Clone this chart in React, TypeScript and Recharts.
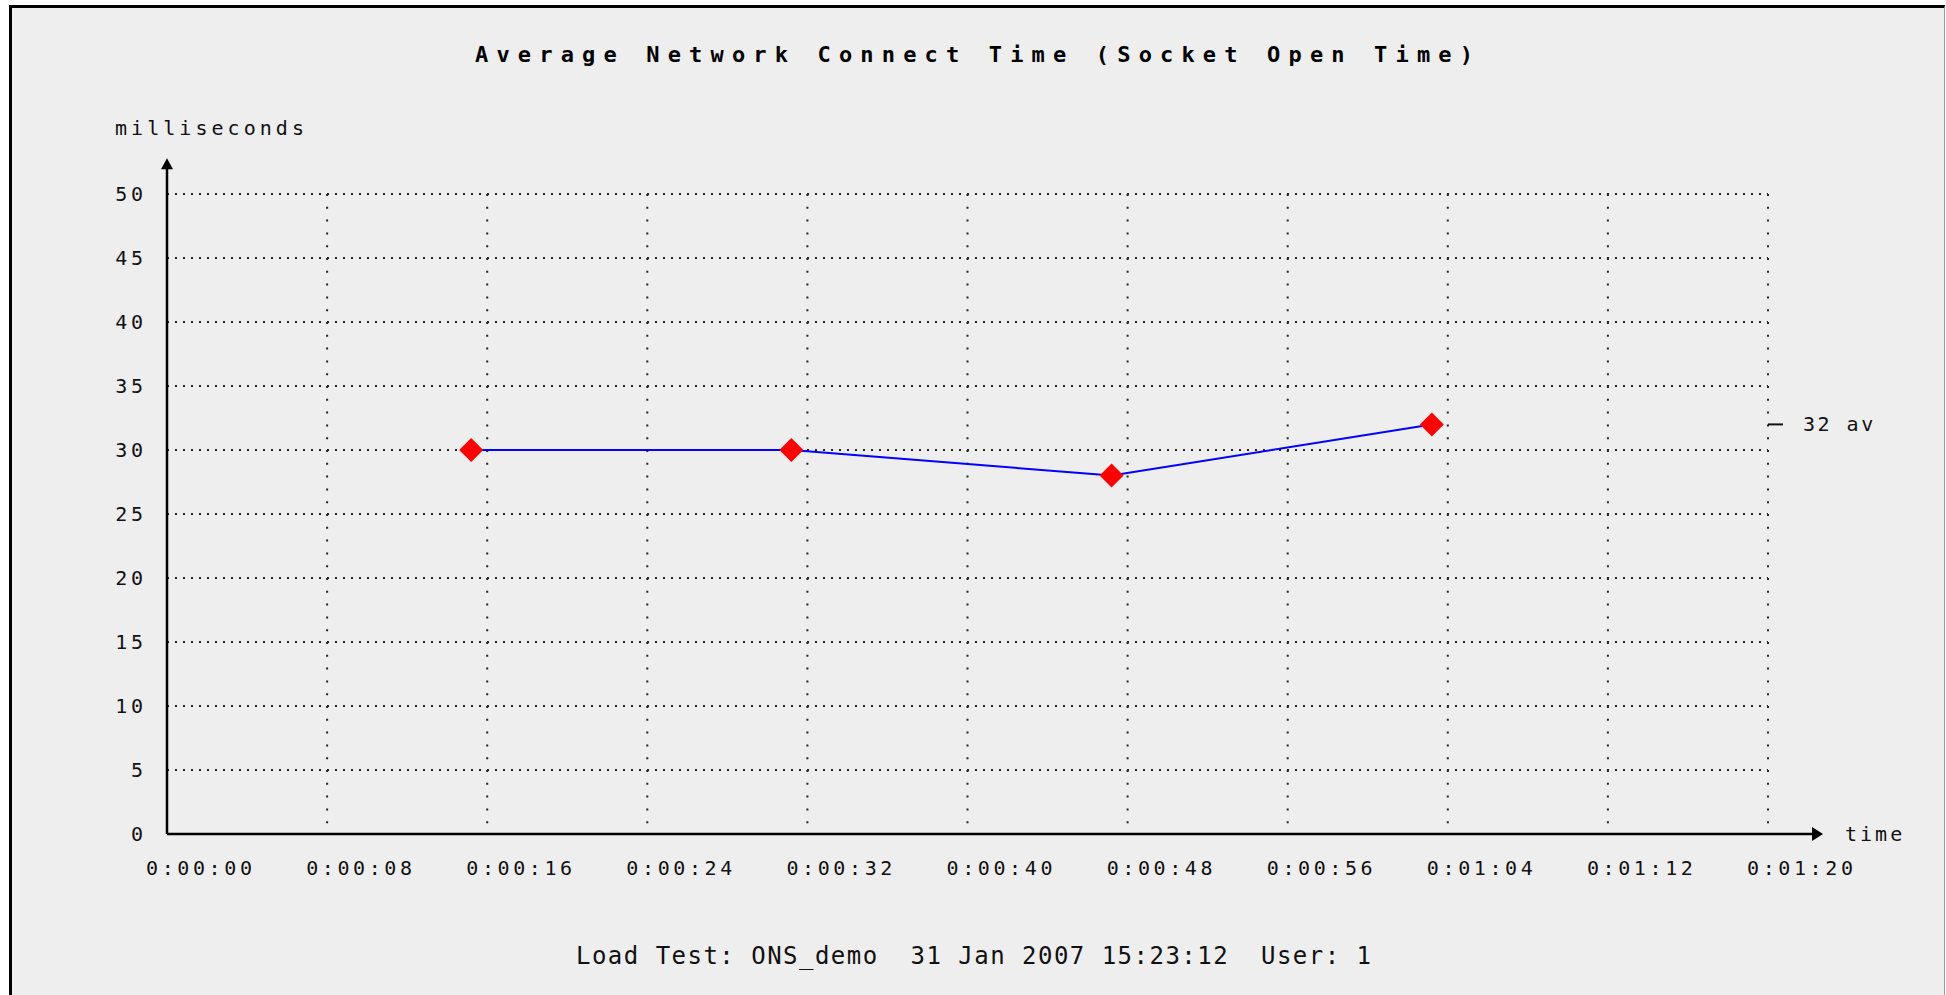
import React from "react";
import { LineChart, Line, XAxis, YAxis, CartesianGrid, ReferenceLine, ReferenceDot } from "recharts";

// values
const sampleTimes = [15.2, 31.2, 47.2, 63.2]; // seconds since start
const connectMs = [30, 30, 28, 32];
const xTicks = [0, 8, 16, 24, 32, 40, 48, 56, 64, 72, 80];
const yTicks = [0, 5, 10, 15, 20, 25, 30, 35, 40, 45, 50];
const avLabel = { value: 32, text: "32 av" };

const data = sampleTimes.map((t, i) => ({ t, ms: connectMs[i] }));

const MONO = "'DejaVu Sans Mono', 'Liberation Mono', monospace";
const LS = 3.6;

const fmtTime = (s: number) => {
  const m = Math.floor(s / 60);
  const sec = s % 60;
  return `0:${String(m).padStart(2, "0")}:${String(sec).padStart(2, "0")}`;
};

const XTick = (props: any) => {
  const { x, y, payload } = props;
  return (
    <text x={x + 32 + LS / 2} y={y + 41} textAnchor="middle" fontFamily={MONO} fontSize={20} letterSpacing={LS} fill="#111">
      {fmtTime(payload.value)}
    </text>
  );
};

const YTick = (props: any) => {
  const { x, y, payload } = props;
  return (
    <text x={x - 24 + LS} y={y + 7} textAnchor="end" fontFamily={MONO} fontSize={20} letterSpacing={LS} fill="#111">
      {payload.value}
    </text>
  );
};

const Diamond = (props: any) => {
  const { cx, cy, index } = props;
  if (cx == null || cy == null) return null;
  const r = 12;
  return (
    <polygon
      key={`d-${index}`}
      points={`${cx},${cy - r} ${cx + r},${cy} ${cx},${cy + r} ${cx - r},${cy}`}
      fill="#ff0000"
    />
  );
};

const XArrow = (props: any) => {
  const { cx, cy } = props;
  return (
    <g>
      <polygon points={`${cx},${cy} ${cx - 11},${cy - 7} ${cx - 11},${cy + 7}`} fill="#000" />
      <text x={cx + 22} y={cy + 7} fontFamily={MONO} fontSize={20} letterSpacing={3} fill="#111">
        time
      </text>
    </g>
  );
};

const YArrow = (props: any) => {
  const { cx, cy } = props;
  return <polygon points={`${cx},${cy} ${cx - 6},${cy + 11} ${cx + 6},${cy + 11}`} fill="#000" />;
};

const AvMark = (props: any) => {
  const { cx, cy } = props;
  return (
    <g>
      <line x1={cx} y1={cy} x2={cx + 15} y2={cy} stroke="#111" strokeWidth={2} />
      <text x={cx + 35} y={cy + 7} fontFamily={MONO} fontSize={20} letterSpacing={2.5} fill="#111">
        {avLabel.text}
      </text>
    </g>
  );
};

export default function App() {
  return (
    <div style={{ position: "absolute", left: 0, top: 0, width: 1946, height: 995, background: "#fff", overflow: "hidden" }}>
      <div
        style={{
          position: "absolute",
          left: 9,
          top: 5,
          width: 1932,
          height: 995,
          background: "#eeeeee",
          borderTop: "3px solid #000",
          borderLeft: "3px solid #000",
          borderRight: "1px solid #999",
        }}
      />
      <div style={{ position: "absolute", left: 0, top: 0 }}>
        <LineChart width={1946} height={995} data={data} margin={{ top: 194, right: 178, bottom: 121, left: 107 }}>
          <CartesianGrid horizontal={false} stroke="#222" strokeWidth={2} strokeDasharray="2 10.8" />
          <CartesianGrid vertical={false} stroke="#222" strokeWidth={2} strokeDasharray="2 6" />
          <XAxis
            type="number"
            dataKey="t"
            domain={[0, 80]}
            ticks={xTicks}
            interval={0}
            height={40}
            axisLine={false}
            tickLine={false}
            tickSize={0}
            tickMargin={0}
            tick={<XTick />}
            allowDataOverflow
          />
          <YAxis
            type="number"
            domain={[0, 50]}
            ticks={yTicks}
            interval={0}
            width={60}
            axisLine={false}
            tickLine={false}
            tickSize={0}
            tickMargin={0}
            tick={<YTick />}
            allowDataOverflow
          />
          <ReferenceLine segment={[{ x: 0, y: 0 }, { x: 82.3, y: 0 }]} stroke="#000" strokeWidth={2.5} ifOverflow="visible" />
          <ReferenceLine segment={[{ x: 0, y: 0 }, { x: 0, y: 52.5 }]} stroke="#000" strokeWidth={2.5} ifOverflow="visible" />
          <ReferenceDot x={82.75} y={0} ifOverflow="visible" shape={<XArrow />} />
          <ReferenceDot x={0} y={52.8} ifOverflow="visible" shape={<YArrow />} />
          <ReferenceDot x={80} y={avLabel.value} ifOverflow="visible" shape={<AvMark />} />
          <Line
            type="linear"
            dataKey="ms"
            stroke="#0000ff"
            strokeWidth={2}
            dot={Diamond}
            activeDot={false}
            isAnimationActive={false}
          />
        </LineChart>
      </div>
      <svg width={1946} height={995} style={{ position: "absolute", left: 0, top: 0, pointerEvents: "none" }}>
        <text x={475} y={62} fontFamily={MONO} fontSize={22} fontWeight="bold" fill="#000" textLength={998} lengthAdjust="spacing">
          Average Network Connect Time (Socket Open Time)
        </text>
        <text x={115} y={135} fontFamily={MONO} fontSize={20} fill="#111" textLength={189} lengthAdjust="spacing">
          milliseconds
        </text>
        <text x={576} y={964} fontFamily={MONO} fontSize={24} fill="#111" textLength={795} lengthAdjust="spacing" style={{ whiteSpace: "pre" }}>
          Load Test: ONS_demo  31 Jan 2007 15:23:12  User: 1
        </text>
      </svg>
    </div>
  );
}
